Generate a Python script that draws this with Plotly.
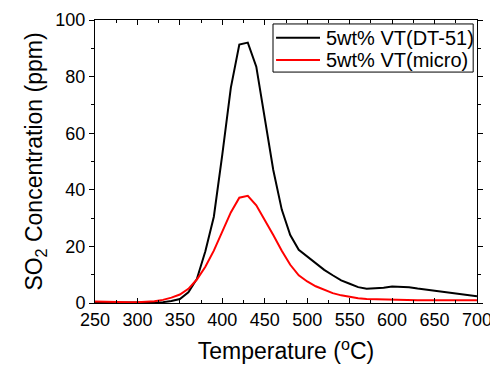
import plotly.graph_objects as go

temperature = [250, 260, 270, 280, 290, 300, 310, 320, 330, 340, 350, 360, 370, 380, 390,
               400, 410, 420, 430, 440, 450, 460, 470, 480, 490, 500, 510, 520, 530, 540,
               550, 560, 570, 580, 590, 600, 610, 620, 630, 640, 650, 660, 670, 680, 690, 700]

so2_dt51 = [0.1, 0.1, 0.1, 0.1, 0.1, 0.1, 0.1, 0.2, 0.3, 0.7, 1.4, 3.8, 8.5, 18.3, 30.5,
            52.5, 76.0, 91.3, 92.0, 83.5, 65.0, 47.0, 33.0, 24.0, 18.8, 16.5, 14.0, 11.7, 9.8, 8.0,
            6.8, 5.6, 5.0, 5.1, 5.4, 5.8, 5.8, 5.6, 5.1, 4.7, 4.4, 4.1, 3.7, 3.3, 2.8, 2.4]

so2_micro = [0.5, 0.4, 0.3, 0.3, 0.3, 0.3, 0.4, 0.6, 1.1, 1.9, 3.0, 5.0, 8.3, 12.8, 18.5,
             25.5, 32.0, 37.2, 37.9, 34.5, 29.5, 24.0, 18.5, 13.5, 9.8, 7.6, 5.9, 4.6, 3.5, 2.7,
             2.1, 1.7, 1.4, 1.3, 1.2, 1.1, 1.1, 1.0, 1.0, 1.0, 1.0, 1.0, 1.0, 1.0, 1.0, 1.0]

series_names = ["5wt% VT(DT-51)", "5wt% VT(micro)"]
series_colors = ["black", "#ff0000"]
x_ticks = [250, 300, 350, 400, 450, 500, 550, 600, 650, 700]
y_ticks = [0, 20, 40, 60, 80, 100]

FONT = "Liberation Sans, Arial, sans-serif"

fig = go.Figure()
for name, values, color in zip(series_names, [so2_dt51, so2_micro], series_colors):
    fig.add_trace(go.Scatter(x=temperature, y=values, mode="lines", name=name,
                             line=dict(color=color, width=2), showlegend=False))

# Legend drawn as a boxed key in the upper right (paper coordinates)
legend_rows_y = [0.937, 0.859]
fig.add_shape(type="rect", xref="paper", yref="paper", x0=0.466, x1=0.990, y0=0.816, y1=0.986,
              line=dict(color="black", width=1), fillcolor="white", layer="above")
for name, color, ry in zip(series_names, series_colors, legend_rows_y):
    fig.add_shape(type="line", xref="paper", yref="paper", x0=0.474, x1=0.589, y0=ry, y1=ry,
                  line=dict(color=color, width=2), layer="above")
    fig.add_annotation(xref="paper", yref="paper", x=0.600, y=ry, text=name, showarrow=False,
                       xanchor="left", yanchor="middle",
                       font=dict(family=FONT, size=20, color="black"))

fig.update_layout(
    width=490, height=367,
    margin=dict(l=95, r=13, t=20, b=64, autoexpand=False),
    paper_bgcolor="white", plot_bgcolor="white",
    font=dict(family=FONT, color="black", size=18),
    showlegend=False,
)
fig.update_xaxes(
    range=[250, 700], tickvals=x_ticks, showgrid=False, zeroline=False,
    showline=True, linecolor="black", linewidth=1, mirror="ticks",
    ticks="inside", ticklen=5, tickcolor="black", automargin=False,
    ticklabeloverflow="allow",
    minor=dict(dtick=25, tick0=250, ticks="inside", ticklen=3, tickcolor="black"),
    tickfont=dict(family=FONT, size=18),
    title=dict(text="Temperature (<sup>o</sup>C)", font=dict(family=FONT, size=23), standoff=14),
)
fig.update_yaxes(
    range=[0, 100], tickvals=y_ticks, showgrid=False, zeroline=False,
    showline=True, linecolor="black", linewidth=1, mirror="ticks",
    ticks="outside", ticklen=5, tickcolor="black", automargin=False,
    ticklabeloverflow="allow",
    minor=dict(dtick=10, tick0=0, ticks="outside", ticklen=3, tickcolor="black"),
    tickfont=dict(family=FONT, size=18),
    title=dict(text="SO<sub>2</sub> Concentration (ppm)", font=dict(family=FONT, size=23), standoff=6),
)

fig.write_html(
    "out.html",
    config={"displayModeBar": False},
    post_script="document.body.style.margin='0px';document.body.style.overflow='hidden';",
)
